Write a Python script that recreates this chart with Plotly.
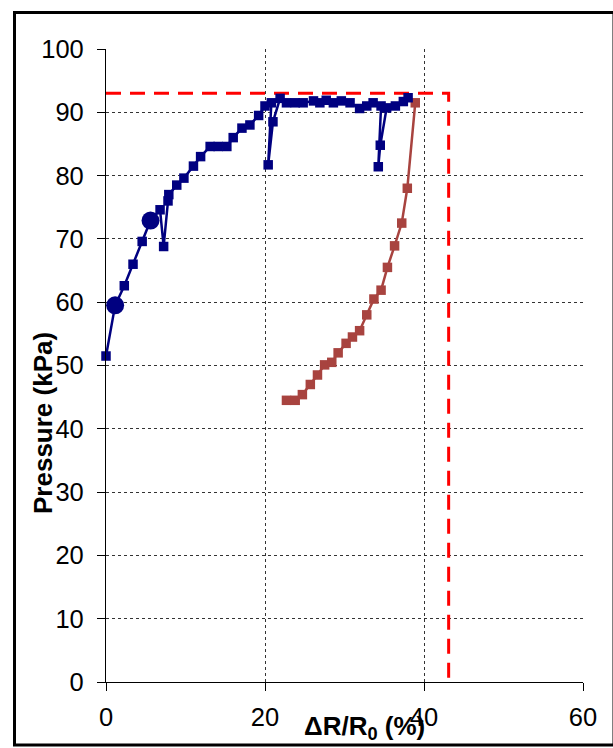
import plotly.graph_objects as go

# Blue series (loading)
blue_x = [0, 1.15, 2.3, 3.4, 4.55, 5.6, 6.8, 7.25, 7.8, 7.9, 8.9, 9.8, 11.0, 11.9,
          13.1, 14.1, 15.2, 16.0, 17.1, 18.1, 19.2, 20.0, 20.8, 20.4, 21.0, 21.9,
          22.7, 23.8, 24.8, 26.1, 26.9, 27.7, 28.6, 29.6, 30.7, 31.9, 32.8, 33.6,
          34.6, 34.25, 34.5, 35.3, 36.4, 37.4, 38.0]
blue_y = [51.5, 59.5, 62.6, 66.0, 69.6, 72.9, 74.6, 68.8, 76.0, 77.0, 78.5, 79.6, 81.5, 83.0,
          84.6, 84.6, 84.6, 86.0, 87.5, 88.0, 89.5, 91.0, 91.5, 81.7, 88.5, 92.2,
          91.5, 91.5, 91.5, 91.8, 91.5, 91.9, 91.5, 91.8, 91.5, 90.6, 91.0, 91.5,
          91.0, 81.4, 84.8, 90.7, 91.0, 91.7, 92.3]

# Highlighted points (large circles)
circle_x = [1.15, 5.6]
circle_y = [59.5, 72.9]

# Red series (unloading)
red_x = [22.7, 23.8, 24.7, 25.7, 26.6, 27.5, 28.4, 29.2, 30.2, 31.0, 31.9, 32.8,
         33.7, 34.6, 35.4, 36.3, 37.2, 37.9, 38.9]
red_y = [44.5, 44.5, 45.4, 47.0, 48.5, 50.1, 50.5, 52.0, 53.5, 54.5, 55.5, 58.0,
         60.5, 61.9, 65.5, 68.9, 72.5, 78.0, 91.5]

# Limit (red dashed)
limit_x = [0, 43.1, 43.1]
limit_y = [93, 93, 0]

x_ticks = [0, 20, 40, 60]
y_ticks = [0, 10, 20, 30, 40, 50, 60, 70, 80, 90, 100]

FONT = "Liberation Sans, Arial, sans-serif"
BLUE = "#000080"
RED = "#A8433F"

fig = go.Figure()
fig.add_trace(go.Scatter(x=limit_x, y=limit_y, mode="lines", cliponaxis=False,
                         line=dict(color="#FF0000", width=3, dash="15px,9px"),
                         hoverinfo="skip"))
fig.add_trace(go.Scatter(x=red_x, y=red_y, mode="lines+markers", cliponaxis=False,
                         line=dict(color=RED, width=2.5),
                         marker=dict(symbol="square", size=9.5, color=RED)))
fig.add_trace(go.Scatter(x=blue_x, y=blue_y, mode="lines+markers", cliponaxis=False,
                         line=dict(color=BLUE, width=2.5),
                         marker=dict(symbol="square", size=9.5, color=BLUE)))
fig.add_trace(go.Scatter(x=circle_x, y=circle_y, mode="markers", cliponaxis=False,
                         marker=dict(symbol="circle", size=18, color=BLUE)))

axis_common = dict(
    showgrid=True, gridcolor="#333333", gridwidth=1, griddash="dot",
    showline=True, linecolor="black", linewidth=1.2,
    ticks="outside", ticklen=8, tickcolor="black", tickwidth=1,
    zeroline=False, tickfont=dict(family=FONT, size=25.5, color="black"),
)

fig.update_xaxes(range=[0, 60], tickvals=x_ticks, ticklabelstandoff=4, **axis_common)
fig.update_yaxes(range=[0, 100], tickvals=y_ticks, ticklabelstandoff=8, **axis_common)

W, H = 613, 748
L, R, T, B = 106, 30, 49, 66
pw, ph = W - L - R, H - T - B

def px(xp):
    return (xp - L) / pw

def py(yp):
    return (H - B - yp) / ph

fig.update_layout(
    width=W, height=H, showlegend=False,
    margin=dict(l=L, r=R, t=T, b=B),
    paper_bgcolor="white", plot_bgcolor="white",
    font=dict(family=FONT, color="black"),
    shapes=[dict(type="rect", xref="paper", yref="paper",
                 x0=px(14.5), x1=px(614), y0=py(745), y1=py(12.5),
                 line=dict(color="black", width=3), fillcolor="rgba(0,0,0,0)",
                 layer="above")],
    annotations=[
        dict(text="<b>ΔR/R<sub>0</sub> (%)</b>", xref="paper", yref="paper",
             x=px(364), y=py(727), showarrow=False,
             font=dict(family=FONT, size=26, color="black"),
             xanchor="center", yanchor="middle"),
        dict(text="<b>Pressure (kPa)</b>", xref="paper", yref="paper",
             x=px(43), y=py(423), showarrow=False, textangle=-90,
             font=dict(family=FONT, size=26, color="black"),
             xanchor="center", yanchor="middle"),
    ],
)

fig.write_html("out.html")
